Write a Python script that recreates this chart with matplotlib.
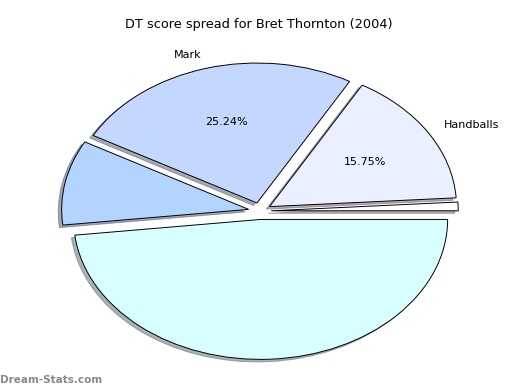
import matplotlib
matplotlib.use("Agg")
import matplotlib.pyplot as plt

title = "DT score spread for Bret Thornton (2004)"
labels = ["", "Handballs", "Mark", "", ""]
values = [1.0, 15.75, 25.24, 9.8, 48.21]
show_pct = [False, True, True, False, False]
colors = ["#ffffff", "#eaf0ff", "#c4d8ff", "#b2d4ff", "#d8ffff"]
explode = [0.06, 0.06, 0.06, 0.062, 0.06]

fig = plt.figure(figsize=(5.2, 3.9), dpi=100)
ax = fig.add_axes([0.0505, 0.0103, 0.899, 0.897])

flags = iter(show_pct)
def fmt(p):
    return f"{p:.2f}%" if next(flags) else ""

wedges, texts, autotexts = ax.pie(
    values, labels=labels, colors=colors, explode=explode,
    autopct=fmt, shadow=dict(ox=-0.013, oy=-0.013, shade=0.6),
    startangle=0, counterclock=True,
    labeldistance=1.1, pctdistance=0.6,
    wedgeprops=dict(edgecolor="black", linewidth=0.7),
    textprops=dict(fontsize=8),
)
ax.set_aspect("auto")
ax.set_xlim(-1.25, 1.25)
ax.set_ylim(-1.25, 1.25)

fig.text(0.497, 0.936, title, ha="center", va="center", fontsize=9.3)
fig.text(0.0, 0.026, "Dream-Stats.com", ha="left", va="center",
         fontsize=7.5, color="#888888", fontweight="bold")

fig.savefig("out.png", dpi=100)
